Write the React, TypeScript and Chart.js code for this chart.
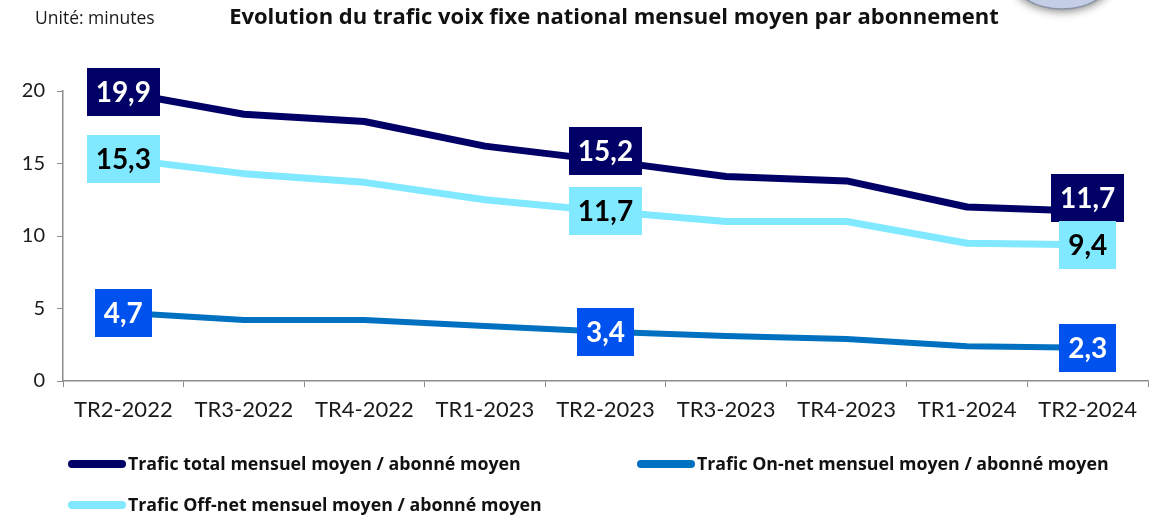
import React, { useEffect, useRef } from "react";
import { Chart, registerables } from "chart.js";

Chart.register(...registerables);

const categories = [
  "TR2-2022", "TR3-2022", "TR4-2022", "TR1-2023", "TR2-2023",
  "TR3-2023", "TR4-2023", "TR1-2024", "TR2-2024",
];
const totalValues = [19.9, 18.4, 17.9, 16.2, 15.2, 14.1, 13.8, 12.0, 11.7];
const onNetValues = [4.7, 4.2, 4.2, 3.8, 3.4, 3.1, 2.9, 2.4, 2.3];
const offNetValues = [15.3, 14.3, 13.7, 12.5, 11.7, 11.0, 11.0, 9.5, 9.4];
const seriesNames = [
  "Trafic total mensuel moyen / abonné moyen",
  "Trafic On-net mensuel moyen / abonné moyen",
  "Trafic Off-net mensuel moyen / abonné moyen",
];
const labelIndices = [0, 4, 8];
const yTickValues = [0, 5, 10, 15, 20];
const titleText = "Evolution du trafic voix fixe national mensuel moyen par abonnement";
const unitText = "Unité: minutes";

const FONT = "Lato, 'Noto Sans', sans-serif";
const FONT2 = "'Open Sans', 'Noto Sans', sans-serif";

const lineColors = ["#000066", "#0070C0", "#80E8FF"];
const labelBg = ["#000066", "#0052EE", "#80E8FF"];
const labelFg = ["#ffffff", "#ffffff", "#000000"];
const labelShift: Record<string, number> = { "0-4": -10, "0-8": -13 };

const labelPlugin = {
  id: "boxLabels",
  afterDatasetsDraw(chart: any) {
    const ctx = chart.ctx;
    ctx.save();
    ctx.font = `bold 28px ${FONT}`;
    ctx.textAlign = "center";
    ctx.textBaseline = "middle";
    chart.data.datasets.forEach((ds: any, di: number) => {
      const meta = chart.getDatasetMeta(di);
      labelIndices.forEach((idx) => {
        const el = meta.data[idx];
        if (!el) return;
        const v = ds.data[idx] as number;
        const txt = v.toFixed(1).replace(".", ",");
        const w = ctx.measureText(txt).width + 18;
        const h = 48;
        const x = el.x;
        const y = el.y + (labelShift[`${di}-${idx}`] || 0);
        ctx.fillStyle = labelBg[di];
        ctx.fillRect(Math.round(x - w / 2), Math.round(y - h / 2), Math.round(w), h);
        ctx.fillStyle = labelFg[di];
        ctx.fillText(txt, x, y + 1);
      });
    });
    ctx.restore();
  },
};

const decorPlugin = {
  id: "decor",
  afterDraw(chart: any) {
    const ctx = chart.ctx;
    ctx.save();
    // decorative partial ellipse at top right
    ctx.shadowColor = "rgba(0,0,0,0.45)";
    ctx.shadowBlur = 8;
    ctx.shadowOffsetY = 3;
    ctx.beginPath();
    ctx.ellipse(1062, -26, 52, 35, 0, 0, Math.PI * 2);
    ctx.fillStyle = "#c4cee6";
    ctx.fill();
    ctx.shadowColor = "transparent";
    ctx.lineWidth = 1.5;
    ctx.strokeStyle = "#8c93a6";
    ctx.stroke();

    // unit + title
    ctx.fillStyle = "#1a1a1a";
    ctx.textBaseline = "middle";
    ctx.textAlign = "left";
    ctx.font = `17.5px ${FONT2}`;
    ctx.fillText(unitText, 35, 19);
    ctx.textAlign = "center";
    ctx.font = `bold 22px ${FONT2}`;
    ctx.fillStyle = "#111";
    ctx.fillText(titleText, 614, 18);

    // legend
    const cols = [68, 637];
    const rows = [464, 505];
    const place = [
      [0, 0],
      [1, 0],
      [0, 1],
    ];
    ctx.font = `bold 17.8px ${FONT2}`;
    ctx.textAlign = "left";
    chart.data.datasets.forEach((ds: any, di: number) => {
      const [c, r] = place[di];
      const x = cols[c];
      const y = rows[r];
      ctx.beginPath();
      ctx.lineCap = "round";
      ctx.lineWidth = 8;
      ctx.strokeStyle = ds.borderColor;
      ctx.moveTo(x + 4, y);
      ctx.lineTo(x + 54, y);
      ctx.stroke();
      ctx.fillStyle = "#111";
      ctx.fillText(ds.label, x + 60, y + 1);
    });
    ctx.restore();
  },
};

export default function App() {
  const ref = useRef<HTMLCanvasElement | null>(null);
  useEffect(() => {
    document.body.style.margin = "0";
    if (!ref.current) return;
    const series = [totalValues, onNetValues, offNetValues];
    const chart = new Chart(ref.current, {
      type: "line",
      data: {
        labels: categories,
        datasets: series.map((vals, i) => ({
          label: seriesNames[i],
          data: vals,
          borderColor: lineColors[i],
          backgroundColor: lineColors[i],
          borderWidth: i === 1 ? 6 : 7,
          pointRadius: 0,
          tension: 0,
          borderJoinStyle: "round" as const,
          fill: false,
        })),
      },
      options: {
        animation: false,
        responsive: false,
        layout: { padding: { top: 91, right: 18, left: 0, bottom: 0 } },
        plugins: {
          legend: { display: false },
          title: { display: false },
          tooltip: { enabled: false },
        },
        scales: {
          x: {
            offset: true,
            grid: {
              offset: true,
              drawOnChartArea: false,
              drawTicks: true,
              tickLength: 6,
              color: "#8c8c8c",
            },
            border: { color: "#8c8c8c", width: 1.5 },
            ticks: {
              font: { family: FONT, size: 22 },
              color: "#1a1a1a",
              padding: 10,
              maxRotation: 0,
              autoSkip: false,
            },
            afterFit: (s: any) => {
              s.height = 138;
            },
          },
          y: {
            min: 0,
            max: 20,
            afterBuildTicks: (s: any) => {
              s.ticks = yTickValues.map((v) => ({ value: v }));
            },
            grid: {
              drawOnChartArea: false,
              drawTicks: true,
              tickLength: 6,
              color: "#8c8c8c",
            },
            border: { color: "#8c8c8c", width: 1.5 },
            ticks: {
              font: { family: FONT, size: 20 },
              color: "#1a1a1a",
              padding: 12,
            },
            afterFit: (s: any) => {
              s.width = 63;
            },
          },
        },
      },
      plugins: [labelPlugin, decorPlugin],
    });
    return () => chart.destroy();
  }, []);
  return (
    <div style={{ width: 1166, height: 519, background: "#fff" }}>
      <canvas ref={ref} width={1166} height={519} style={{ display: "block" }} />
    </div>
  );
}
